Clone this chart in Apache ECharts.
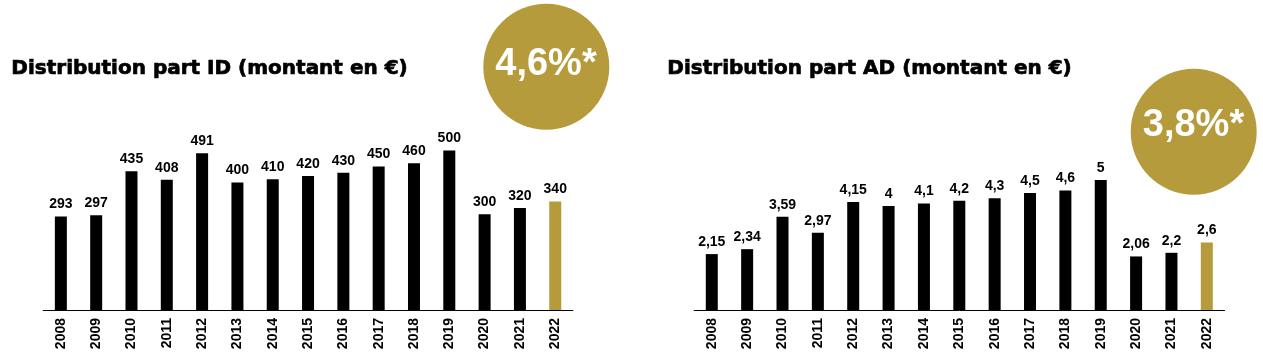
<!DOCTYPE html>
<html>
<head>
<meta charset="utf-8">
<script src="https://cdn.jsdelivr.net/npm/echarts@6/dist/echarts.min.js"></script>
<style>
html,body{margin:0;padding:0;background:#fff;}
#c{width:1263px;height:357px;}
</style>
</head>
<body>
<div id="c"></div>
<script>
const years = ['2008','2009','2010','2011','2012','2013','2014','2015','2016','2017','2018','2019','2020','2021','2022'];
const valuesID = [293, 297, 435, 408, 491, 400, 410, 420, 430, 450, 460, 500, 300, 320, 340];
const valuesAD = [2.15, 2.34, 3.59, 2.97, 4.15, 4, 4.1, 4.2, 4.3, 4.5, 4.6, 5, 2.06, 2.2, 2.6];
const titleID = 'Distribution part ID (montant en €)';
const titleAD = 'Distribution part AD (montant en €)';
const badgeID = '4,6%*';
const badgeAD = '3,8%*';

const GOLD = '#B59B3B';
const chart = echarts.init(document.getElementById('c'), null, {renderer: 'canvas'});

function barColor(p) { return p.dataIndex === years.length - 1 ? GOLD : '#000'; }
function fmt(p) { return String(p.value).replace('.', ','); }

const xCommon = {
  type: 'category',
  data: years,
  axisLine: {show: true, lineStyle: {color: '#000', width: 1}},
  axisTick: {show: false},
  axisLabel: {rotate: 90, margin: 8, color: '#000', fontFamily: 'Liberation Sans', fontWeight: 'bold', fontSize: 14}
};
const labelCommon = {show: true, position: 'top', distance: 5, color: '#000', fontFamily: 'Liberation Sans', fontWeight: 'bold', fontSize: 14, formatter: fmt};

chart.setOption({
  animation: false,
  grid: [
    {left: 43.2, width: 529.7, top: 118.6, bottom: 47},
    {left: 694.1, width: 530.4, top: 154, bottom: 47}
  ],
  xAxis: [
    Object.assign({gridIndex: 0}, xCommon),
    Object.assign({gridIndex: 1}, xCommon)
  ],
  yAxis: [
    {gridIndex: 0, type: 'value', min: 0, max: 600, show: false},
    {gridIndex: 1, type: 'value', min: 0, max: 6, show: false}
  ],
  series: [
    {type: 'bar', xAxisIndex: 0, yAxisIndex: 0, data: valuesID, barWidth: 12, itemStyle: {color: barColor}, label: labelCommon},
    {type: 'bar', xAxisIndex: 1, yAxisIndex: 1, data: valuesAD, barWidth: 12, itemStyle: {color: barColor}, label: labelCommon}
  ],
  graphic: [
    {type: 'text', left: 11, top: 58, style: {text: titleID, fill: '#000', stroke: '#000', lineWidth: 0.7, font: 'bold 20px "DejaVu Sans"'}},
    {type: 'text', left: 667, top: 58, style: {text: titleAD, fill: '#000', stroke: '#000', lineWidth: 0.7, font: 'bold 20px "DejaVu Sans"'}},
    {type: 'circle', shape: {cx: 546.3, cy: 66.7, r: 63}, style: {fill: GOLD}},
    {type: 'text', x: 546, y: 65, style: {text: badgeID, fill: '#fff', font: 'bold 38px "Liberation Sans"', textAlign: 'center', textVerticalAlign: 'middle'}},
    {type: 'circle', shape: {cx: 1193.7, cy: 131.7, r: 63}, style: {fill: GOLD}},
    {type: 'text', x: 1193.5, y: 126, style: {text: badgeAD, fill: '#fff', font: 'bold 38px "Liberation Sans"', textAlign: 'center', textVerticalAlign: 'middle'}}
  ]
});
</script>
</body>
</html>
